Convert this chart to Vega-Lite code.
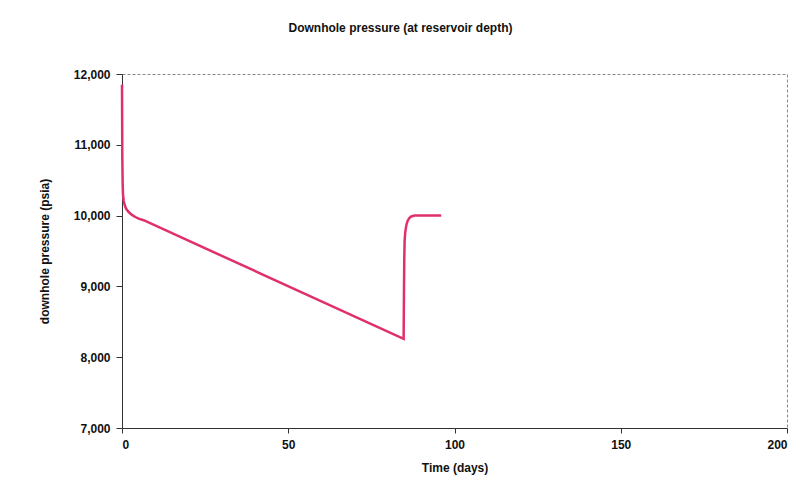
{
  "$schema": "https://vega.github.io/schema/vega-lite/v6.json",
  "width": 665,
  "height": 354,
  "autosize": {"type": "none"},
  "padding": {"left": 122, "top": 74, "right": 14, "bottom": 70},
  "background": "white",
  "title": {
    "text": "Downhole pressure (at reservoir depth)",
    "font": "Liberation Sans",
    "fontSize": 12,
    "fontWeight": "bold",
    "color": "#111",
    "anchor": "middle",
    "frame": "group",
    "dx": -54,
    "offset": 33
  },
  "config": {
    "view": {"stroke": "#888", "strokeDash": [3, 2], "strokeWidth": 1},
    "axis": {
      "labelFont": "Liberation Sans",
      "labelFontSize": 12,
      "labelFontWeight": "bold",
      "labelColor": "#111",
      "titleFont": "Liberation Sans",
      "titleFontSize": 12,
      "titleFontWeight": "bold",
      "titleColor": "#111",
      "domainColor": "#333",
      "tickColor": "#333",
      "grid": false
    }
  },
  "data": {
    "values": [
      {"t": 0, "p": 11850},
      {"t": 0.05, "p": 11300},
      {"t": 0.1, "p": 10800},
      {"t": 0.2, "p": 10450},
      {"t": 0.3, "p": 10300},
      {"t": 0.5, "p": 10210},
      {"t": 0.8, "p": 10150},
      {"t": 1.2, "p": 10100},
      {"t": 2, "p": 10050},
      {"t": 3, "p": 10010},
      {"t": 4, "p": 9980},
      {"t": 5, "p": 9958},
      {"t": 6.5, "p": 9935},
      {"t": 84.7, "p": 8260},
      {"t": 84.8, "p": 8900},
      {"t": 84.9, "p": 9400},
      {"t": 85.0, "p": 9650},
      {"t": 85.2, "p": 9770},
      {"t": 85.5, "p": 9860},
      {"t": 85.9, "p": 9925},
      {"t": 86.4, "p": 9965},
      {"t": 87.0, "p": 9988},
      {"t": 88, "p": 10000},
      {"t": 96, "p": 10000}
    ]
  },
  "mark": {"type": "line", "color": "#e0306a", "strokeWidth": 2.5, "interpolate": "linear"},
  "encoding": {
    "x": {
      "field": "t",
      "type": "quantitative",
      "scale": {"domain": [0, 200], "nice": false},
      "axis": {"values": [0, 50, 100, 150, 200], "title": "Time (days)", "titlePadding": 12, "labelPadding": 6, "tickSize": 5}
    },
    "y": {
      "field": "p",
      "type": "quantitative",
      "scale": {"domain": [7000, 12000], "nice": false},
      "axis": {"values": [7000, 8000, 9000, 10000, 11000, 12000], "format": ",.0f", "title": "downhole pressure (psia)", "titlePadding": 22, "labelPadding": 6, "tickSize": 6}
    }
  }
}
